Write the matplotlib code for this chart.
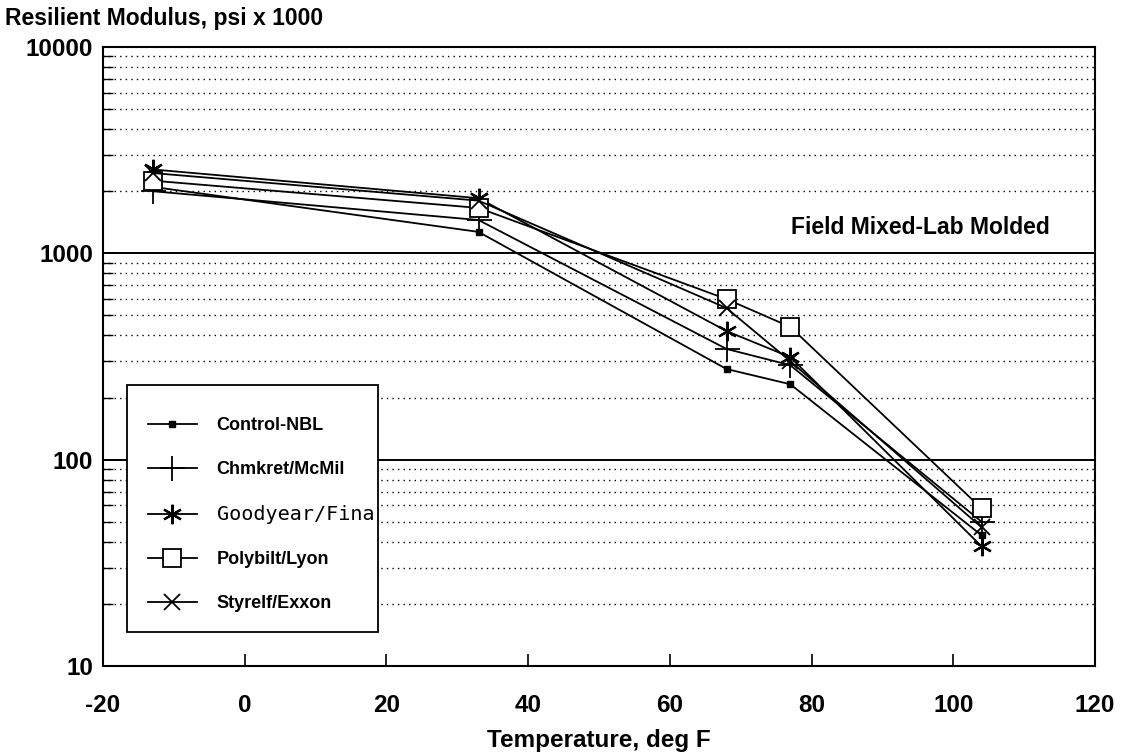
import matplotlib.pyplot as plt
from matplotlib.patches import Rectangle
from matplotlib.ticker import LogLocator, NullFormatter, FixedLocator

# data (psi x 1000)
temps = [-13, 33, 68, 77, 104]
control = [2100, 1270, 275, 232, 43]
chmkret = [2000, 1450, 344, 287, 50]
goodyear = [2550, 1850, 420, 314, 38]
polybilt = [2250, 1660, 600, 440, 58]
styrelf = [2450, 1800, 543, 300, 47]

names = ['Control-NBL', 'Chmkret/McMil', 'Goodyear/Fina', 'Polybilt/Lyon', 'Styrelf/Exxon']
yticks = [10, 100, 1000, 10000]
xticks = [-20, 0, 20, 40, 60, 80, 100, 120]

plt.rcParams['font.family'] = ['Liberation Sans', 'DejaVu Sans']
plt.rcParams['font.weight'] = 'bold'

fig = plt.figure(figsize=(11.28, 7.54), dpi=100)
ax = fig.add_axes([0.0913, 0.1167, 0.8794, 0.821])

lw = 1.3
ax.plot(temps, control, color='k', lw=lw, marker='s', ms=5, mfc='k', label=names[0])
ax.plot(temps, chmkret, color='k', lw=lw, marker='+', ms=18, mew=1.3, label=names[1])
ax.plot(temps, goodyear, color='k', lw=lw, marker=(6, 2, 0), ms=14, mew=1.6, label=names[2])
ax.plot(temps, polybilt, color='k', lw=lw, marker='s', ms=13, mfc='white', mew=1.3, label=names[3])
ax.plot(temps, styrelf, color='k', lw=lw, marker='x', ms=11, mew=1.3, label=names[4])

ax.set_yscale('log')
ax.set_ylim(10, 10000)
ax.set_xlim(-20, 120)
ax.yaxis.set_major_locator(FixedLocator(yticks))
ax.set_yticklabels([str(v) for v in yticks])
ax.yaxis.set_minor_locator(LogLocator(base=10, subs=range(2, 10)))
ax.yaxis.set_minor_formatter(NullFormatter())
ax.set_xticks(xticks)
ax.set_xticklabels([str(v) for v in xticks])

ax.yaxis.grid(True, which='major', color='k', lw=1.4, ls='-')
ax.yaxis.grid(True, which='minor', color='k', lw=1.0, ls=(0, (1, 3)))
ax.set_axisbelow(True)

ax.tick_params(axis='both', which='both', direction='in', labelsize=17.5)
ax.tick_params(axis='y', which='major', length=10, width=1.2, pad=7)
ax.tick_params(axis='y', which='minor', length=7, width=1.0)
ax.tick_params(axis='x', which='major', length=9, width=1.2, pad=20, top=False)
for lab in ax.get_xticklabels() + ax.get_yticklabels():
    lab.set_fontweight('bold')
for sp in ax.spines.values():
    sp.set_linewidth(1.5)

ax.set_xlabel('Temperature, deg F', fontsize=17.5, fontweight='bold', labelpad=9)
fig.text(0.004, 0.976, 'Resilient Modulus, psi x 1000', fontsize=16.5,
         fontweight='bold', ha='left', va='center')
ax.text(95.3, 1330, 'Field Mixed-Lab Molded', fontsize=16.5, fontweight='bold',
        ha='center', va='center')

# legend box drawn separately (handles sit far from the left edge, text nearly touches the right)
ax.add_patch(Rectangle((0.0242, 0.0549), 0.253, 0.3991, transform=ax.transAxes,
                       facecolor='white', edgecolor='k', lw=1.3, zorder=4))
leg = ax.legend(loc='upper left', bbox_to_anchor=(0.0454, 0.402), prop={'size': 13, 'weight': 'bold'},
                frameon=False, handlelength=2.7, handletextpad=1.1, labelspacing=1.5,
                borderpad=0, borderaxespad=0)
leg.set_zorder(5)
leg.get_texts()[2].set_fontproperties({'family': 'DejaVu Sans Mono', 'size': 14.5, 'weight': 'normal'})

fig.savefig('out.png', dpi=100)
